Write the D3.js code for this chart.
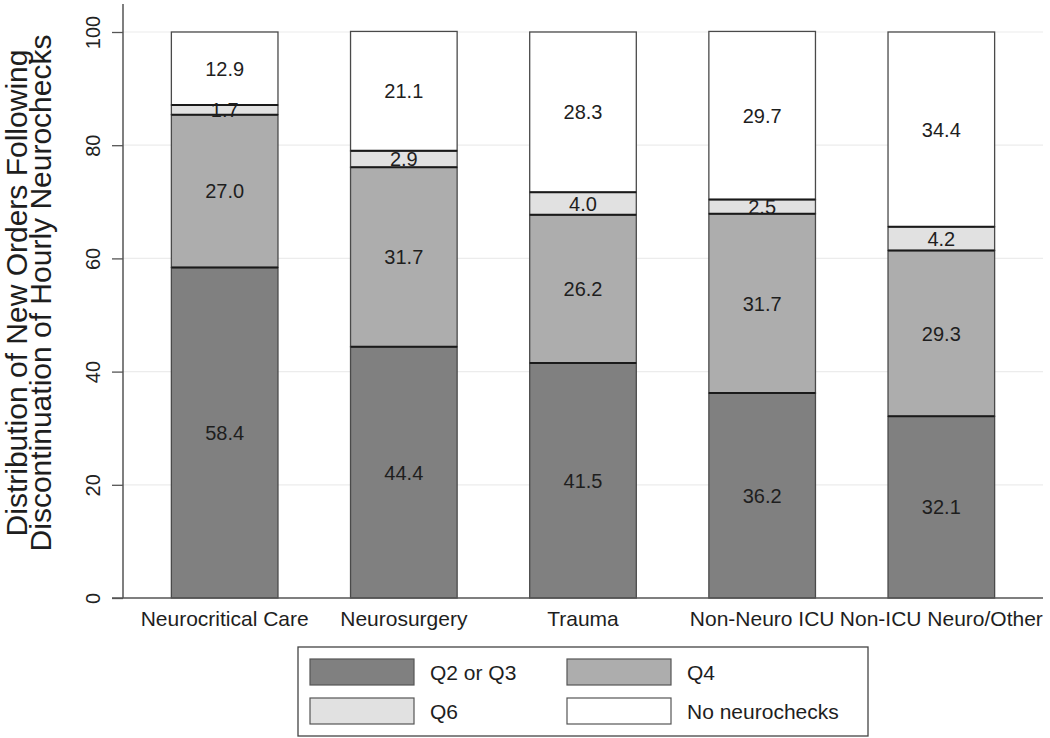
<!DOCTYPE html>
<html><head><meta charset="utf-8">
<script src="https://cdn.jsdelivr.net/npm/d3@7"></script>
<style>body{margin:0;background:#fff}svg{display:block;font-family:"Liberation Sans",Arial,sans-serif}</style>
</head><body><svg id="c" width="1050" height="738"></svg>
<script>
const categories = ["Neurocritical Care","Neurosurgery","Trauma","Non-Neuro ICU","Non-ICU Neuro/Other"];
const seriesNames = ["Q2 or Q3","Q4","Q6","No neurochecks"];
const q2q3 = [58.4,44.4,41.5,36.2,32.1];
const q4 = [27.0,31.7,26.2,31.7,29.3];
const q6 = [1.7,2.9,4.0,2.5,4.2];
const none = [12.9,21.1,28.3,29.7,34.4];
const yTicks = [0,20,40,60,80,100];
const colors = ["#808080","#adadad","#e1e1e1","#ffffff"];

const svg = d3.select("#c");
const x = d3.scaleBand().domain(categories).range([123,1043]).paddingInner(0.405).paddingOuter(0.27);
const y = d3.scaleLinear().domain([0,100]).range([598,32]);

// gridlines
svg.append("g").selectAll("line").data(yTicks.filter(d=>d>0)).join("line")
  .attr("x1",123).attr("x2",1043).attr("y1",d=>y(d)).attr("y2",d=>y(d))
  .attr("stroke","#ececec").attr("stroke-width",1.2);

const rows = categories.map((c,i)=>({cat:c, "Q2 or Q3":q2q3[i], "Q4":q4[i], "Q6":q6[i], "No neurochecks":none[i]}));
const stack = d3.stack().keys(seriesNames)(rows);

const g = svg.append("g");
stack.forEach((s,k)=>{
  g.append("g").selectAll("rect").data(s).join("rect")
    .attr("x",d=>x(d.data.cat)).attr("width",x.bandwidth())
    .attr("y",d=>y(d[1])).attr("height",d=>y(d[0])-y(d[1]))
    .attr("fill",colors[k]).attr("stroke","#4a4a4a").attr("stroke-width",1.3);
});
// darker segment boundaries
stack.forEach((s,k)=>{
  if(k===0) return;
  g.append("g").selectAll("line").data(s).join("line")
    .attr("x1",d=>x(d.data.cat)).attr("x2",d=>x(d.data.cat)+x.bandwidth())
    .attr("y1",d=>y(d[0])).attr("y2",d=>y(d[0]))
    .attr("stroke","#1a1a1a").attr("stroke-width",2);
});
// labels
stack.forEach((s,k)=>{
  g.append("g").selectAll("text").data(s).join("text")
    .attr("x",d=>x(d.data.cat)+x.bandwidth()/2)
    .attr("y",d=>(y(d[0])+y(d[1]))/2)
    .attr("dy","0.36em").attr("text-anchor","middle")
    .attr("font-size",20).attr("fill","#1e1e1e")
    .text(d=>(d[1]-d[0]).toFixed(1));
});

// y axis
const ya = svg.append("g").attr("transform","translate(123,0)")
  .call(d3.axisLeft(y).tickValues(yTicks).tickSize(11).tickPadding(0).tickFormat(d3.format("d")));
ya.select(".domain").attr("d","M0,4V598").attr("stroke","#555").attr("stroke-width",1.5);
ya.selectAll(".tick line").attr("stroke","#555").attr("stroke-width",1.3);
ya.selectAll(".tick text").attr("font-size",20).attr("fill","#222").attr("font-family","Liberation Sans, Arial, sans-serif")
  .attr("transform","translate(-23,0) rotate(-90)").attr("text-anchor","middle").attr("x",0).attr("dy","0em").attr("y",0);

// x axis
const xa = svg.append("g").attr("transform","translate(0,598)")
  .call(d3.axisBottom(x).tickSize(0).tickPadding(13));
xa.select(".domain").attr("d","M112,0H1043").attr("stroke","#555").attr("stroke-width",1.5);
xa.selectAll(".tick text").attr("font-size",21).attr("fill","#1e1e1e").attr("font-family","Liberation Sans, Arial, sans-serif");

// y title
const yt = svg.append("text").attr("transform","translate(27,293) rotate(-90)")
  .attr("text-anchor","middle").attr("font-size",30).attr("fill","#1e1e1e");
yt.append("tspan").attr("x",0).attr("dy","0").text("Distribution of New Orders Following");
yt.append("tspan").attr("x",0).attr("dy",24).text("Discontinuation of Hourly Neurochecks");

// legend
const lg = svg.append("g");
lg.append("rect").attr("x",298).attr("y",647).attr("width",570).attr("height",89)
  .attr("fill","#fff").attr("stroke","#444").attr("stroke-width",1.3);
const legPos = [[310,659],[567,659],[310,698],[567,698]];
seriesNames.forEach((n,i)=>{
  const [lx,ly] = legPos[i];
  lg.append("rect").attr("x",lx).attr("y",ly).attr("width",104).attr("height",26)
    .attr("fill",colors[i]).attr("stroke","#555").attr("stroke-width",1.2);
  lg.append("text").attr("x",lx+120).attr("y",ly+13).attr("dy","0.36em")
    .attr("font-size",21).attr("fill","#1e1e1e").text(n);
});
</script></body></html>
